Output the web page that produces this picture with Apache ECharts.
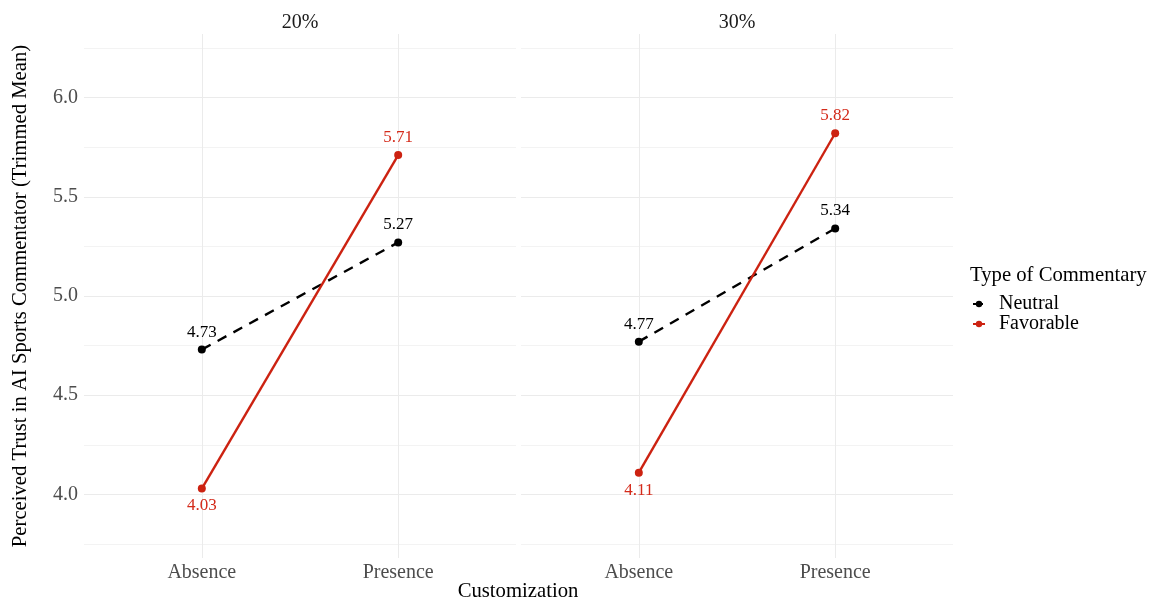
<!DOCTYPE html>
<html>
<head>
<meta charset="utf-8">
<script src="https://cdn.jsdelivr.net/npm/echarts@6/dist/echarts.min.js"></script>
<style>
html,body{margin:0;padding:0;background:#fff;}
#chart{width:1160px;height:607px;}
</style>
</head>
<body>
<div id="chart"></div>
<script>
// ---- data ----
const categories = ['Absence', 'Presence'];
const facets = ['20%', '30%'];
const neutral20 = [4.73, 5.27];
const favorable20 = [4.03, 5.71];
const neutral30 = [4.77, 5.34];
const favorable30 = [4.11, 5.82];
const yTickLabels = [4.0, 4.5, 5.0, 5.5, 6.0];
const yGridValues = [3.75, 4.0, 4.25, 4.5, 4.75, 5.0, 5.25, 5.5, 5.75, 6.0, 6.25];
const seriesNames = ['Neutral', 'Favorable'];

const FONT = "'Liberation Serif', 'DejaVu Serif', serif";
const RED = '#CC2211';
const BLACK = '#000000';

const grids = [
  {left: 84, top: 34, width: 432, height: 524},
  {left: 521, top: 34, width: 432, height: 524}
];

function xAxisFor(i) {
  return {
    type: 'value', gridIndex: i, min: 0.4, max: 2.6,
    axisLine: {show: false},
    axisTick: {show: false, customValues: [1, 2]},
    axisLabel: {
      customValues: [1, 2],
      formatter: v => categories[Math.round(v) - 1] || '',
      color: '#4d4d4d', fontFamily: FONT, fontSize: 20, margin: 5
    },
    splitLine: {show: true, lineStyle: {color: '#ebebeb', width: 1}}
  };
}
function yAxisFor(i) {
  return {
    type: 'value', gridIndex: i, min: 3.68, max: 6.32,
    axisLine: {show: false},
    axisTick: {show: false, customValues: yGridValues},
    axisLabel: {
      show: i === 0,
      customValues: yTickLabels,
      formatter: v => v.toFixed(1),
      color: '#4d4d4d', fontFamily: FONT, fontSize: 20, margin: 6
    },
    splitLine: {show: true, lineStyle: {color: ['#f3f3f3', '#ebebeb'], width: 1}}
  };
}
function toPts(vals) { return categories.map((c, k) => [k + 1, vals[k]]); }
function valOf(p) { return (Array.isArray(p.value) ? p.value[1] : p.data.value[1]).toFixed(2); }

function lineSeries(name, vals, gi, color, dashed, belowFirst) {
  const pts = toPts(vals).map((p, k) => (belowFirst && k === 0) ? {value: p, label: {position: 'bottom'}} : p);
  return {
    name: name, type: 'line', xAxisIndex: gi, yAxisIndex: gi,
    data: pts,
    symbol: 'circle', symbolSize: 8,
    itemStyle: {color: color},
    lineStyle: {color: color, width: 2.4, type: dashed ? [10, 8] : 'solid'},
    label: {
      show: true,
      position: 'top',
      distance: 5,
      formatter: valOf,
      color: color === RED ? '#D42A1A' : '#000',
      fontFamily: FONT, fontSize: 17
    },
    emphasis: {disabled: true},
    animation: false
  };
}

const series = [
  lineSeries('Neutral', neutral20, 0, BLACK, true, false),
  lineSeries('Favorable', favorable20, 0, RED, false, true),
  lineSeries('Neutral', neutral30, 1, BLACK, true, false),
  lineSeries('Favorable', favorable30, 1, RED, false, true)
];

const chart = echarts.init(document.getElementById('chart'), null, {renderer: 'canvas'});
chart.setOption({
  backgroundColor: '#ffffff',
  animation: false,
  grid: grids,
  xAxis: [xAxisFor(0), xAxisFor(1)],
  yAxis: [yAxisFor(0), yAxisFor(1)],
  title: [
    {text: facets[0], left: 300, top: 13, padding: 0, textAlign: 'center',
     textStyle: {fontFamily: FONT, fontSize: 20, fontWeight: 'normal', color: '#1a1a1a'}},
    {text: facets[1], left: 737, top: 13, padding: 0, textAlign: 'center',
     textStyle: {fontFamily: FONT, fontSize: 20, fontWeight: 'normal', color: '#1a1a1a'}},
    {text: 'Type of Commentary', left: 970, top: 265, padding: 0,
     textStyle: {fontFamily: FONT, fontSize: 20.7, fontWeight: 'normal', color: '#000'}}
  ],
  legend: {
    data: seriesNames,
    orient: 'vertical',
    left: 972, top: 294, padding: 0,
    itemWidth: 12, itemHeight: 8, itemGap: 0,
    selectedMode: false,
    textStyle: {fontFamily: FONT, fontSize: 20, color: '#000', lineHeight: 18, padding: [0, 0, 0, 9]}
  },
  graphic: [
    {type: 'text', x: 518, y: 592,
     style: {text: 'Customization', font: "20.7px " + FONT, fill: '#000', textAlign: 'center', textVerticalAlign: 'middle'}},
    {type: 'text', x: 21, y: 296, rotation: Math.PI / 2,
     style: {text: 'Perceived Trust in AI Sports Commentator (Trimmed Mean)', font: "20.7px " + FONT, fill: '#000', textAlign: 'center', textVerticalAlign: 'middle'}}
  ],
  series: series
});
</script>
</body>
</html>
